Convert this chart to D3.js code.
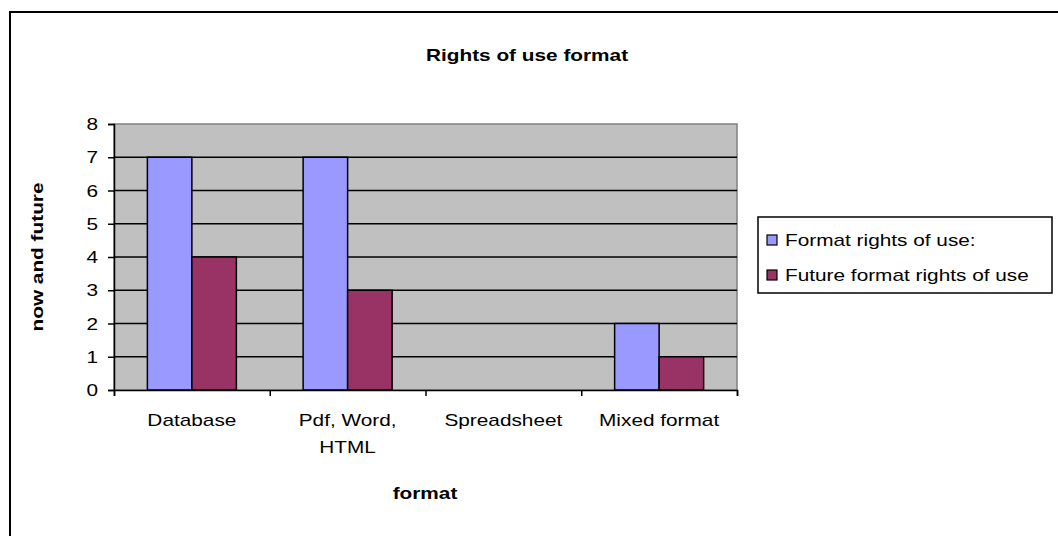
<!DOCTYPE html>
<meta charset="utf-8">
<style>
    body { margin: 0; background: #fff; }
    text { font-family: "Liberation Sans", Arial, sans-serif; fill: #000; }
</style>
<script src="https://cdn.jsdelivr.net/npm/d3@7"></script>
<div id="chart"></div>
<script>
    // data
    var categories = [["Database"], ["Pdf, Word,", "HTML"], ["Spreadsheet"], ["Mixed format"]];
    var seriesNames = ["Format rights of use:", "Future format rights of use"];
    var seriesNow = [7, 7, 0, 2];
    var seriesFuture = [4, 3, 0, 1];
    var yTicks = [0, 1, 2, 3, 4, 5, 6, 7, 8];
    var colors = ["#9999ff", "#993366"];

    var width = 1058, height = 536;
    var sx = 1.3;                   // the picture is stretched sideways, so is the text
    var fs = 16;

    var svg = d3.select("#chart").append("svg").attr("width", width).attr("height", height);

    // helper for stretched text
    function label(g, x, y, str, size, bold, anchor) {
        return g.append("text")
            .attr("transform", "translate(" + x + "," + y + ") scale(" + sx + ",1)")
            .attr("text-anchor", anchor || "middle")
            .attr("font-size", size + "px")
            .attr("font-weight", bold ? "bold" : "normal")
            .text(str);
    }

    // outer frame
    svg.append("rect").attr("x", 10).attr("y", 12).attr("width", width).attr("height", height)
        .attr("fill", "#fff").attr("stroke", "#000").attr("stroke-width", 2);

    var plot = {left: 114, right: 737, top: 124, bottom: 390};

    var x0 = d3.scaleBand().domain(d3.range(categories.length))
        .range([plot.left, plot.right]).paddingInner(0).paddingOuter(0);
    var x1 = d3.scaleBand().domain([0, 1]).range([0, x0.bandwidth()])
        .paddingInner(0).paddingOuter(0.75);
    var y = d3.scaleLinear().domain([0, 8]).range([plot.bottom, plot.top]);

    // plot background
    svg.append("rect").attr("x", plot.left).attr("y", plot.top)
        .attr("width", plot.right - plot.left).attr("height", plot.bottom - plot.top)
        .attr("fill", "#c0c0c0").attr("stroke", "#808080").attr("stroke-width", 1.5);

    // gridlines
    svg.append("g").selectAll("line").data(yTicks.filter(function(d) { return d > 0 && d < 8; }))
        .enter().append("line")
        .attr("x1", plot.left).attr("x2", plot.right)
        .attr("y1", function(d) { return y(d); }).attr("y2", function(d) { return y(d); })
        .attr("stroke", "#000").attr("stroke-width", 1.5);

    // bars
    var groups = svg.append("g").selectAll("g").data(categories).enter().append("g")
        .attr("transform", function(d, i) { return "translate(" + x0(i) + ",0)"; });
    groups.each(function(d, i) {
        var vals = [seriesNow[i], seriesFuture[i]];
        d3.select(this).selectAll("rect").data(vals).enter().append("rect")
            .filter(function(v) { return v > 0; })
            .attr("x", function(v, j) { return x1(j); })
            .attr("y", function(v) { return y(v); })
            .attr("width", x1.bandwidth())
            .attr("height", function(v) { return y(0) - y(v); })
            .attr("fill", function(v, j) { return colors[j]; })
            .attr("stroke", "#000").attr("stroke-width", 1.5);
    });

    // y axis
    var yAxis = d3.axisLeft(y).tickValues(yTicks).tickSize(6).tickPadding(12);
    var gy = svg.append("g").attr("transform", "translate(" + plot.left + ",0)").call(yAxis);
    gy.select(".domain").attr("stroke", "#000").attr("stroke-width", 1.5);
    gy.selectAll(".tick line").attr("stroke", "#000").attr("stroke-width", 1.5);
    gy.selectAll(".tick text").remove();
    yTicks.forEach(function(t) {
        label(svg, 98, y(t) + 6, t, fs, false, "end");
    });

    // x axis
    var xBound = d3.scaleLinear().domain([0, categories.length]).range([plot.left, plot.right]);
    var xAxis = d3.axisBottom(xBound).ticks(categories.length).tickSize(6).tickFormat("");
    var gx = svg.append("g").attr("transform", "translate(0," + plot.bottom + ")").call(xAxis);
    gx.select(".domain").attr("stroke", "#000").attr("stroke-width", 1.5);
    gx.selectAll(".tick line").attr("stroke", "#000").attr("stroke-width", 1.5);

    categories.forEach(function(lines, i) {
        lines.forEach(function(t, k) {
            label(svg, x0(i) + x0.bandwidth() / 2, 426 + k * 27, t, fs, false);
        });
    });

    // titles
    label(svg, 527, 61, "Rights of use format", fs, true);
    label(svg, 425, 499, "format", fs, true);
    svg.append("text")
        .attr("transform", "translate(43,257) rotate(-90) scale(" + sx + ",1)")
        .attr("text-anchor", "middle").attr("font-size", fs + "px").attr("font-weight", "bold")
        .text("now and future");

    // legend
    var leg = svg.append("g").attr("transform", "translate(758,217)");
    leg.append("rect").attr("width", 294).attr("height", 76)
        .attr("fill", "#fff").attr("stroke", "#000").attr("stroke-width", 1.5);
    seriesNames.forEach(function(name, i) {
        var cy = 23 + i * 35;
        leg.append("rect").attr("x", 9).attr("y", cy - 5).attr("width", 10).attr("height", 10)
            .attr("fill", colors[i]).attr("stroke", "#000").attr("stroke-width", 1.2);
        label(leg, 27, cy + 6, name, fs, false, "start");
    });
</script>
